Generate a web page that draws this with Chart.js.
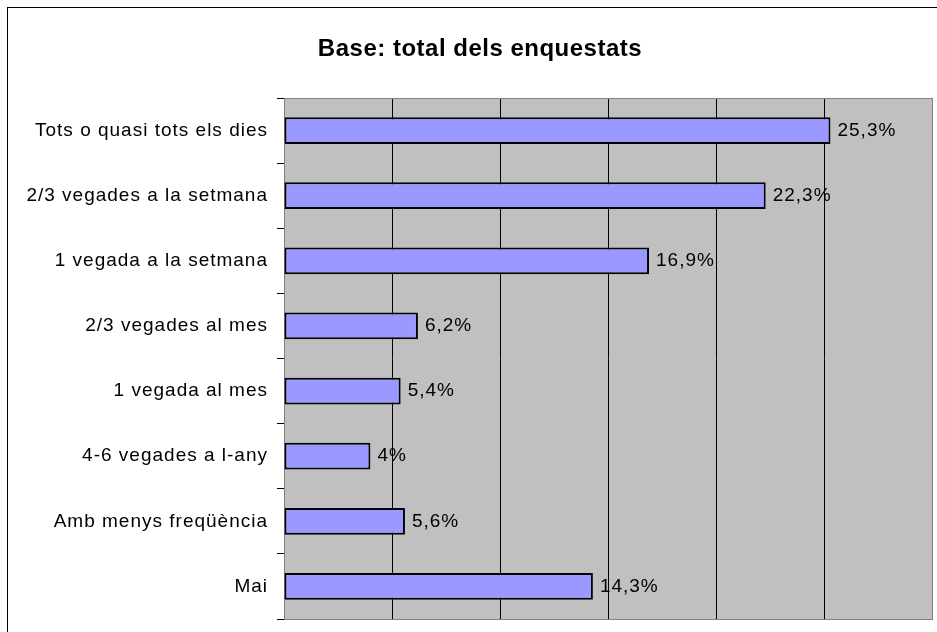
<!DOCTYPE html>
<html>
<head>
<meta charset="utf-8">
<script src="https://cdn.jsdelivr.net/npm/chart.js@4.4.0/dist/chart.umd.min.js"></script>
<style>
  html, body { margin: 0; padding: 0; background: #fff; }
</style>
</head>
<body>
<canvas id="chart" width="937" height="632"></canvas>
<script>
const chartTitle = 'Base: total dels enquestats';
const categories = [
  'Tots o quasi tots els dies',
  '2/3 vegades a la setmana',
  '1 vegada a la setmana',
  '2/3 vegades al mes',
  '1 vegada al mes',
  '4-6 vegades a l-any',
  'Amb menys freqüència',
  'Mai'
];
const percentages = [25.3, 22.3, 16.9, 6.2, 5.4, 4, 5.6, 14.3];
const axisMax = 30;
const axisStep = 5;

const FONT = '"Liberation Sans", Arial, sans-serif';

// Catalan style: 25,3%
function formatPct(v) {
  return (Number.isInteger(v) ? String(v) : v.toFixed(1).replace('.', ',')) + '%';
}

// background, outer frame, title, wider letter spacing
const framePlugin = {
  id: 'frame',
  beforeLayout(chart) {
    chart.ctx.letterSpacing = '1px';
  },
  beforeDraw(chart) {
    const { ctx, chartArea: a } = chart;
    ctx.save();
    ctx.fillStyle = '#fff';
    ctx.fillRect(0, 0, chart.width, chart.height);
    ctx.strokeStyle = '#000';
    ctx.lineWidth = 1;
    ctx.strokeRect(7.5, 7.5, chart.width + 20, chart.height + 20);
    ctx.fillStyle = '#c0c0c0';
    ctx.fillRect(a.left, a.top, a.right - a.left, a.bottom - a.top);

    ctx.letterSpacing = '0.5px';
    ctx.font = 'bold 24px ' + FONT;
    ctx.fillStyle = '#000';
    ctx.textAlign = 'center';
    ctx.textBaseline = 'alphabetic';
    ctx.fillText(chartTitle, 480, 56);
    ctx.restore();
    ctx.letterSpacing = '1px';
  },
  beforeDatasetsDraw(chart) {
    const { ctx, chartArea: a } = chart;
    ctx.save();
    ctx.strokeStyle = '#808080';
    ctx.lineWidth = 1;
    ctx.strokeRect(a.left + 0.5, a.top + 0.5, a.right - a.left, a.bottom - a.top);
    ctx.restore();
  },
  afterDatasetsDraw(chart) {
    const ctx = chart.ctx;
    const meta = chart.getDatasetMeta(0);
    ctx.save();
    ctx.font = '19px ' + FONT;
    ctx.fillStyle = '#000';
    ctx.textAlign = 'left';
    ctx.textBaseline = 'middle';
    meta.data.forEach((bar, i) => {
      ctx.fillText(formatPct(percentages[i]), bar.x + 7, bar.y);
    });
    ctx.restore();
  }
};

const ctx = document.getElementById('chart').getContext('2d');
new Chart(ctx, {
  type: 'bar',
  data: {
    labels: categories,
    datasets: [{
      data: percentages,
      backgroundColor: '#9999ff',
      borderColor: '#000',
      borderWidth: 2,
      borderSkipped: false,
      barPercentage: 0.41,
      categoryPercentage: 1
    }]
  },
  options: {
    indexAxis: 'y',
    responsive: false,
    animation: false,
    layout: { padding: { top: 98, right: 5, bottom: 13, left: 0 } },
    plugins: {
      legend: { display: false },
      title: { display: false },
      tooltip: { enabled: false }
    },
    scales: {
      x: {
        min: 0,
        max: axisMax,
        ticks: { display: false, stepSize: axisStep },
        border: { display: false },
        grid: {
          drawTicks: false,
          lineWidth: 1,
          color: (c) => (c.tick && (c.tick.value === 0 || c.tick.value === axisMax)) ? '#808080' : '#000'
        }
      },
      y: {
        afterFit: (scale) => {
          scale.width = 284;
          scale.paddingTop = 0;
          scale.paddingBottom = 0;
        },
        ticks: {
          color: '#000',
          padding: 9,
          font: { family: FONT, size: 19 }
        },
        border: { display: true, color: '#000', width: 1 },
        grid: {
          drawOnChartArea: false,
          color: '#000',
          tickLength: 7,
          offset: true
        }
      }
    }
  },
  plugins: [framePlugin]
});
</script>
</body>
</html>
